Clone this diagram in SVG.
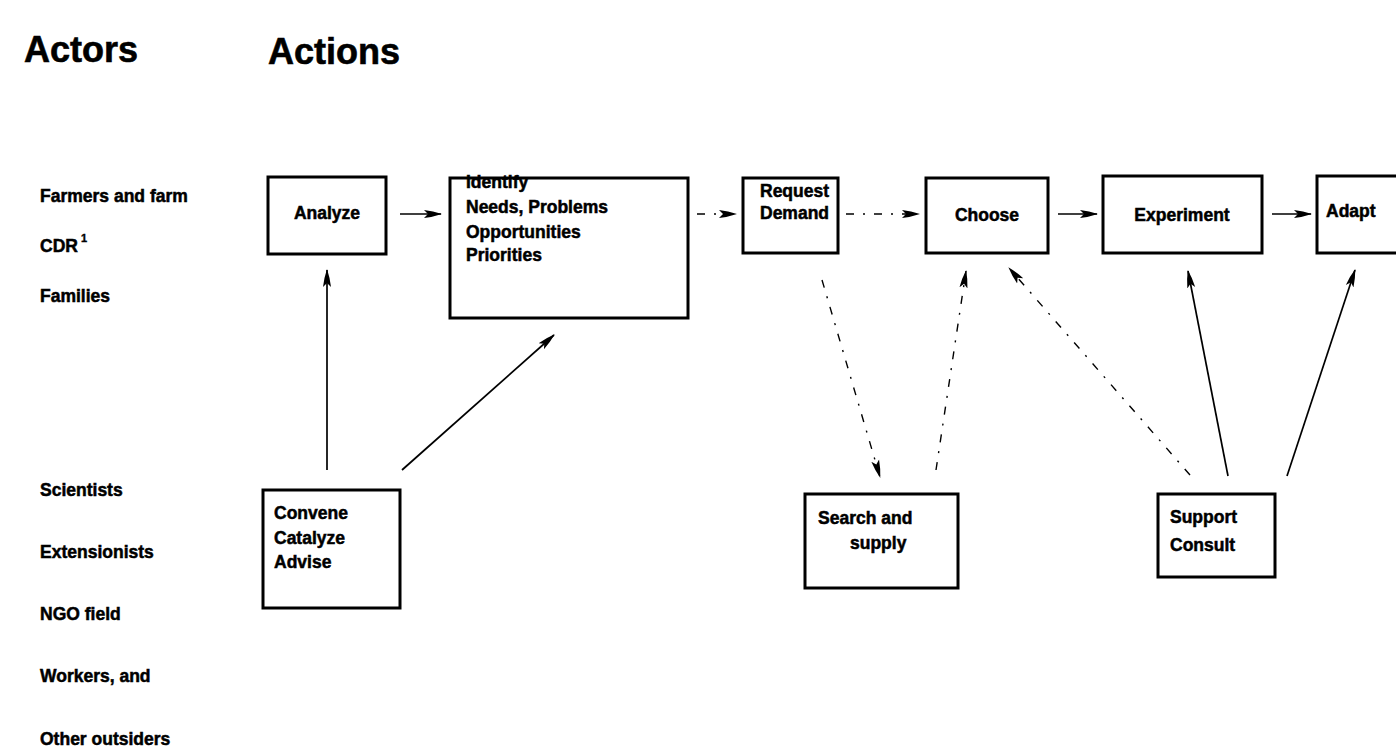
<svg xmlns="http://www.w3.org/2000/svg" width="1396" height="751" viewBox="0 0 1396 751">
  <style>
    .hdr { font-family: "Liberation Sans", Arial, sans-serif; font-weight: bold; font-size: 36px; fill: #000; stroke: #000; stroke-width: 0.6; }
    .actor { font-family: "Liberation Sans", Arial, sans-serif; font-weight: bold; font-size: 17.5px; fill: #000; stroke: #000; stroke-width: 0.5; }
    .sup { font-family: "Liberation Sans", Arial, sans-serif; font-weight: bold; font-size: 11px; fill: #000; stroke: #000; stroke-width: 0.4; }
    .lbl { font-family: "Liberation Sans", Arial, sans-serif; font-weight: bold; font-size: 17.5px; fill: #000; stroke: #000; stroke-width: 0.5; }
    .box { fill: #fff; stroke: #000; stroke-width: 3; }
    .link { fill: none; stroke: #000; stroke-width: 1.7; marker-end: url(#head); }
    .dash { stroke-dasharray: 8 9 2 9; stroke-width: 1.4; }
  </style>
  <defs>
    <marker id="head" viewBox="0 0 18 11" refX="17" refY="5.5" markerUnits="userSpaceOnUse" markerWidth="18" markerHeight="11" orient="auto">
      <path d="M0,1.5 Q9,2.5 18,5.5 Q9,8.5 0,9.5 L4,5.5 Z" fill="#000"/>
    </marker>
  </defs>
  <rect width="1396" height="751" fill="#fff"/>

  <!-- column headings -->
  <text class="hdr" x="24" y="62">Actors</text>
  <text class="hdr" x="268" y="64">Actions</text>

  <!-- actor labels -->
  <g id="actors-farm">
    <text class="actor" x="40" y="202">Farmers and farm</text>
    <text class="actor" x="40" y="252">CDR</text>
    <text class="sup" x="81" y="242">1</text>
    <text class="actor" x="40" y="302">Families</text>
  </g>
  <g id="actors-outside">
    <text class="actor" x="40" y="496">Scientists</text>
    <text class="actor" x="40" y="558">Extensionists</text>
    <text class="actor" x="40" y="620">NGO field</text>
    <text class="actor" x="40" y="682">Workers, and</text>
    <text class="actor" x="40" y="745">Other outsiders</text>
  </g>

  <!-- connectors -->
  <g id="connectors">
    <line class="link" x1="400" y1="214" x2="441" y2="214"/>
    <line class="link dash" x1="697" y1="214" x2="736" y2="214"/>
    <line class="link dash" x1="846" y1="214" x2="919" y2="214"/>
    <line class="link" x1="1058" y1="214" x2="1097" y2="214"/>
    <line class="link" x1="1272" y1="214" x2="1311" y2="214"/>
    <line class="link" x1="327" y1="470" x2="327" y2="270"/>
    <line class="link" x1="402" y1="470" x2="554" y2="335"/>
    <line class="link dash" x1="822" y1="280" x2="880" y2="477"/>
    <line class="link dash" x1="936" y1="470" x2="966" y2="271"/>
    <line class="link dash" x1="1190" y1="475" x2="1009" y2="268"/>
    <line class="link" x1="1228" y1="476" x2="1188" y2="271"/>
    <line class="link" x1="1287" y1="476" x2="1355" y2="270"/>
  </g>

  <!-- action boxes -->
  <g id="analyze">
    <rect class="box" x="268" y="177" width="118" height="77"/>
    <text class="lbl" x="327" y="219" text-anchor="middle">Analyze</text>
  </g>
  <g id="identify">
    <rect class="box" x="450" y="178" width="238" height="140"/>
    <text class="lbl" x="466" y="188">Identify</text>
    <text class="lbl" x="466" y="213">Needs, Problems</text>
    <text class="lbl" x="466" y="238">Opportunities</text>
    <text class="lbl" x="466" y="261">Priorities</text>
  </g>
  <g id="request">
    <rect class="box" x="743" y="178" width="95" height="75"/>
    <text class="lbl" x="760" y="197">Request</text>
    <text class="lbl" x="760" y="219">Demand</text>
  </g>
  <g id="choose">
    <rect class="box" x="926" y="178" width="122" height="75"/>
    <text class="lbl" x="987" y="221" text-anchor="middle">Choose</text>
  </g>
  <g id="experiment">
    <rect class="box" x="1103" y="176" width="159" height="77"/>
    <text class="lbl" x="1182" y="221" text-anchor="middle">Experiment</text>
  </g>
  <g id="adapt">
    <rect class="box" x="1317" y="176" width="90" height="77"/>
    <text class="lbl" x="1326" y="217">Adapt</text>
  </g>
  <g id="convene">
    <rect class="box" x="263" y="490" width="137" height="118"/>
    <text class="lbl" x="274" y="519">Convene</text>
    <text class="lbl" x="274" y="544">Catalyze</text>
    <text class="lbl" x="274" y="568">Advise</text>
  </g>
  <g id="search">
    <rect class="box" x="805" y="494" width="153" height="94"/>
    <text class="lbl" x="818" y="524">Search and</text>
    <text class="lbl" x="850" y="549">supply</text>
  </g>
  <g id="support">
    <rect class="box" x="1158" y="494" width="117" height="83"/>
    <text class="lbl" x="1170" y="523">Support</text>
    <text class="lbl" x="1170" y="551">Consult</text>
  </g>
</svg>
